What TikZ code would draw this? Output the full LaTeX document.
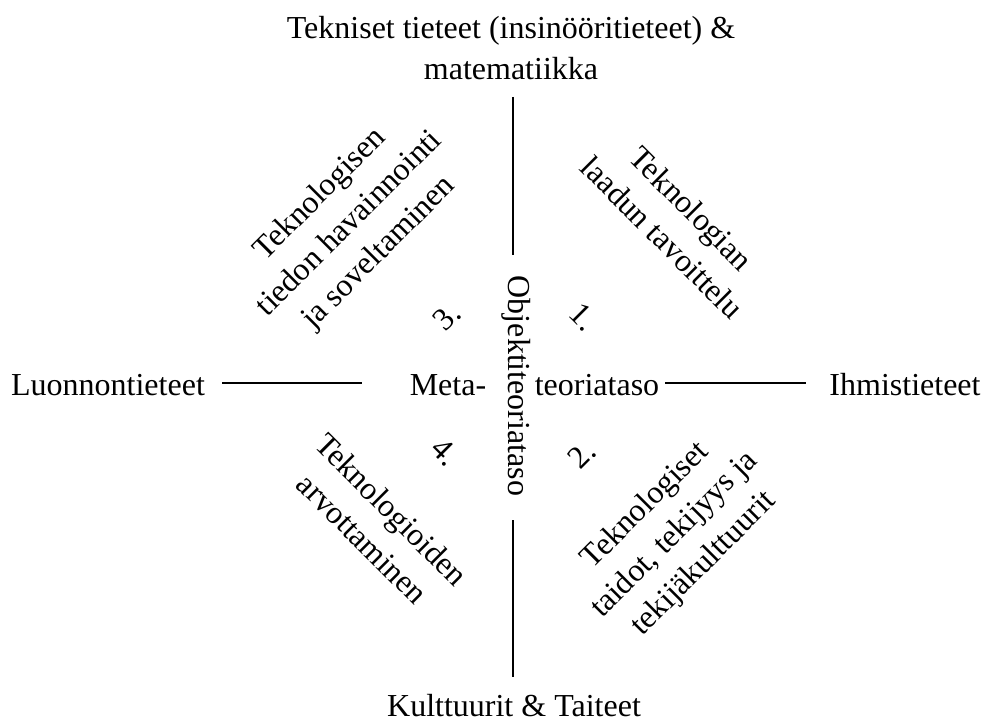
\documentclass[tikz,border=0pt]{standalone}
\usepackage{fontspec}
\setmainfont{Liberation Serif}
\usetikzlibrary{positioning}

\tikzset{
  field/.style={align=center, inner sep=0pt, font=\fontsize{12}{15.5}\selectfont},
  area/.style={field},
  num/.style={inner sep=0pt, font=\fontsize{12}{15.5}\selectfont}
}

\begin{document}
\begin{tikzpicture}[x=0.375pt, y=-0.375pt]
            \useasboundingbox (0,0) rectangle (983,720);

            % Draw the fields of science
            \node[field] (tekn) at (511,48) {Tekniset tieteet (insinööritieteet) \&\\matematiikka};
            \node[field] (luonn) at (108,385) {Luonnontieteet};
            \node[field] (ihmis) at (905,385) {Ihmistieteet};
            \node[field] (kult) at (514,706) {Kulttuurit \& Taiteet};

            % Draw the levels in the middle
            \node[field] (meta) at (448,385) {Meta-};
            \node[field] (teoria) at (597,385) {teoriataso};
            \node[field, rotate=-90] (objekti) at (516,386) {Objektiteoriataso};

            % Draw the axes
            \coordinate (ylos1) at (513,97);
            \coordinate (ylos2) at (513,255);
            \coordinate (alas1) at (513,520);
            \coordinate (alas2) at (513,677);
            \coordinate (vasen1) at (222,383);
            \coordinate (vasen2) at (362,383);
            \coordinate (oikea1) at (665,383);
            \coordinate (oikea2) at (806,383);
            \draw (ylos1) -- (ylos2);
            \draw (alas1) -- (alas2);
            \draw (vasen1) -- (vasen2);
            \draw (oikea1) -- (oikea2);

            % Draw the four areas
            \node[area, rotate=-45] (alue1) at (677,223) {Teknologian\\laadun tavoittelu};
            \node[area, rotate=45] (alue2) at (675,535) {Teknologiset\\taidot, tekijyys ja\\tekijäkulttuurit};
            \node[area, rotate=45] (alue3) at (350,224) {Teknologisen\\tiedon havainnointi\\ja soveltaminen};
            \node[area, rotate=-45] (alue4) at (377,524) {Teknologioiden\\arvottaminen};

            \node[num, rotate=-45] (n1) at (583,317) {1.};
            \node[num, rotate=45] (n2) at (582,455) {2.};
            \node[num, rotate=45] (n3) at (447,317) {3.};
            \node[num, rotate=-45] (n4) at (445,452) {4.};

        \end{tikzpicture}
\end{document}
